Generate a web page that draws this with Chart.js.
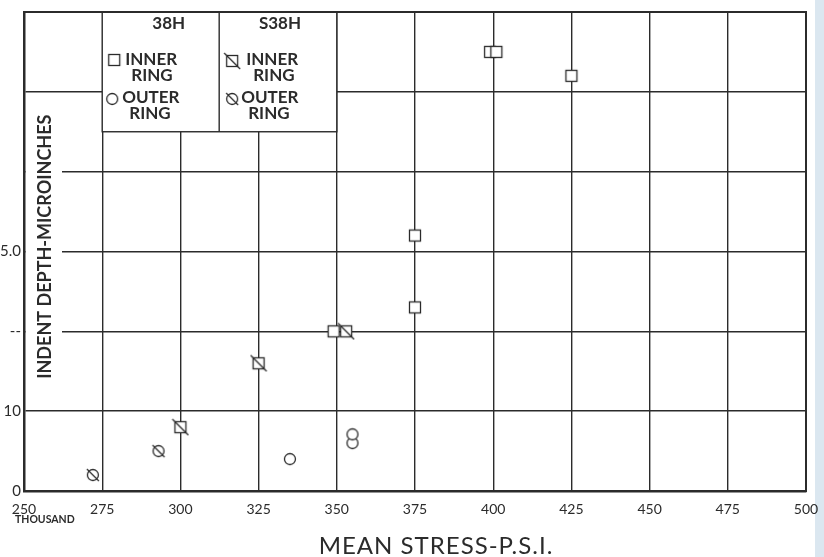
<!DOCTYPE html>
<html>
<head>
<meta charset="utf-8">
<script src="https://cdn.jsdelivr.net/npm/chart.js@4/dist/chart.umd.min.js"></script>
<style>
  html, body { margin: 0; padding: 0; }
  body { background: linear-gradient(to right, #fff 0, #fff 815px, #dbe7f0 815px); }
  #wrap { width: 824px; height: 557px; position: relative; }
</style>
</head>
<body>
<div id="wrap"><canvas id="myChart" width="824" height="557"></canvas></div>
<script>
// values (x = mean stress, thousand psi; y = indent depth, microinches)
const inner38H  = [{x: 349, y: 20}, {x: 375, y: 23}, {x: 375, y: 32}, {x: 399, y: 55}, {x: 401, y: 55}, {x: 425, y: 52}];
const outer38H  = [{x: 335, y: 4}, {x: 355, y: 6}, {x: 355, y: 7.1}];
const innerS38H = [{x: 300, y: 8}, {x: 325, y: 16}, {x: 353, y: 20}];
const outerS38H = [{x: 272, y: 2}, {x: 293, y: 5}];

const xTickValues = [250, 275, 300, 325, 350, 375, 400, 425, 450, 475, 500];
const yTickText = {0: '0', 10: '10', 20: '--', 30: '5.0'};

const INK = '#2b2b2b';
const FONT = 'Lato, "Open Sans", sans-serif';

// little canvases used as point styles (square, circle, with or without slash)
function marker(kind, slash) {
    let c = document.createElement('canvas');
    c.width = 18; c.height = 18;
    let g = c.getContext('2d');
    g.strokeStyle = INK;
    g.fillStyle = '#fff';
    g.lineWidth = 1.3;
    if (kind === 'square') {
        g.fillRect(3.5, 3.5, 11, 11);
        g.strokeRect(3.5, 3.5, 11, 11);
    } else {
        g.beginPath();
        g.arc(9, 9, 5.5, 0, Math.PI * 2);
        g.fill();
        g.stroke();
    }
    if (slash) {
        g.beginPath();
        if (kind === 'square') { g.moveTo(1, 1); g.lineTo(17, 17); }
        else { g.moveTo(3, 3); g.lineTo(15, 15); }
        g.stroke();
    }
    return c;
}
const mSquare = marker('square', false);
const mCircle = marker('circle', false);
const mSquareSlash = marker('square', true);
const mCircleSlash = marker('circle', true);

const paper = {
    id: 'paper',
    beforeDatasetsDraw(chart) {
        const ctx = chart.ctx;
        const xs = chart.scales.x, ys = chart.scales.y;
        const area = chart.chartArea;
        ctx.save();

        // gap in the grid for the y title
        ctx.fillStyle = '#fff';
        ctx.fillRect(area.left + 2, ys.getPixelForValue(48.5), 36, ys.getPixelForValue(11.5) - ys.getPixelForValue(48.5));
        ctx.translate(area.left + 21, ys.getPixelForValue(30.6));
        ctx.rotate(-Math.PI / 2);
        ctx.fillStyle = INK;
        ctx.font = 'bold 18px ' + FONT;
        ctx.textAlign = 'center';
        ctx.textBaseline = 'middle';
        ctx.fillText('INDENT DEPTH-MICROINCHES', 0, 0);
        ctx.setTransform(1, 0, 0, 1, 0, 0);

        // legend box
        const l = xs.getPixelForValue(275), r = xs.getPixelForValue(350);
        const mid = xs.getPixelForValue(312.4);
        const t = area.top, b = ys.getPixelForValue(45);
        ctx.fillStyle = '#fff';
        ctx.fillRect(l, t, r - l, b - t);
        ctx.strokeStyle = INK;
        ctx.lineWidth = 1.4;
        ctx.strokeRect(l, t, r - l, b - t);
        ctx.beginPath();
        ctx.moveTo(mid, t); ctx.lineTo(mid, b);
        ctx.stroke();

        ctx.fillStyle = INK;
        ctx.textBaseline = 'middle';
        ctx.textAlign = 'center';
        ctx.font = 'bold 17px ' + FONT;
        ctx.fillText('38H', (l + mid) / 2 + 8, t + 12);
        ctx.fillText('S38H', (mid + r) / 2 + 2, t + 12);

        ctx.textAlign = 'left';
        ctx.drawImage(mSquare, l + 3, t + 39);
        ctx.fillText('INNER', l + 23, t + 48);
        ctx.fillText('RING', l + 29, t + 64);
        ctx.drawImage(mCircle, l + 1, t + 78);
        ctx.fillText('OUTER', l + 20, t + 86);
        ctx.fillText('RING', l + 27, t + 102);

        ctx.drawImage(mSquareSlash, mid + 4, t + 40);
        ctx.fillText('INNER', mid + 27, t + 48);
        ctx.fillText('RING', mid + 34, t + 64);
        ctx.drawImage(mCircleSlash, mid + 4, t + 78);
        ctx.fillText('OUTER', mid + 22, t + 86);
        ctx.fillText('RING', mid + 29, t + 102);
        ctx.restore();
    },
    afterDraw(chart) {
        const ctx = chart.ctx;
        const area = chart.chartArea;
        ctx.save();
        ctx.strokeStyle = INK;
        ctx.lineWidth = 2;
        ctx.strokeRect(area.left, area.top, area.right - area.left, area.bottom - area.top);

        ctx.fillStyle = INK;
        ctx.font = 'bold 10.5px ' + FONT;
        ctx.textAlign = 'left';
        ctx.textBaseline = 'middle';
        ctx.fillText('THOUSAND', 15, 520);

        ctx.font = '24px ' + FONT;
        ctx.letterSpacing = '1px';
        ctx.textAlign = 'center';
        ctx.fillText('MEAN STRESS-P.S.I.', 436, 546);
        ctx.restore();
    }
};

let ctx = document.getElementById('myChart').getContext('2d');
let myChart = new Chart(ctx, {
    type: 'scatter',
    data: {
        datasets: [
            {label: '38H INNER RING', data: inner38H, pointStyle: mSquare},
            {label: '38H OUTER RING', data: outer38H, pointStyle: mCircle},
            {label: 'S38H INNER RING', data: innerS38H, pointStyle: mSquareSlash},
            {label: 'S38H OUTER RING', data: outerS38H, pointStyle: mCircleSlash}
        ]
    },
    options: {
        responsive: false,
        animation: false,
        layout: {
            padding: {left: 0, right: 18, top: 12, bottom: 0}
        },
        plugins: {
            legend: {display: false},
            tooltip: {enabled: false}
        },
        scales: {
            x: {
                type: 'linear',
                min: 250,
                max: 500,
                afterBuildTicks: (scale) => { scale.ticks = xTickValues.map(v => ({value: v})); },
                afterFit: (scale) => {
                    scale.height = 66;
                    scale.paddingLeft = 0;
                    scale.paddingRight = 0;
                },
                grid: {color: INK, lineWidth: 1.4, drawTicks: false},
                border: {color: INK, width: 2.5},
                ticks: {
                    color: INK,
                    padding: 10,
                    maxRotation: 0,
                    font: {family: FONT, size: 14},
                    callback: (v) => String(v)
                }
            },
            y: {
                min: 0,
                max: 60,
                afterFit: (scale) => { scale.width = 24; },
                grid: {color: INK, lineWidth: 1.4, drawTicks: false},
                border: {color: INK, width: 2.5},
                ticks: {
                    stepSize: 10,
                    color: INK,
                    padding: 3,
                    font: {family: FONT, size: 15},
                    callback: (v) => (yTickText[v] !== undefined ? yTickText[v] : '')
                }
            }
        }
    },
    plugins: [paper]
});
</script>
</body>
</html>
